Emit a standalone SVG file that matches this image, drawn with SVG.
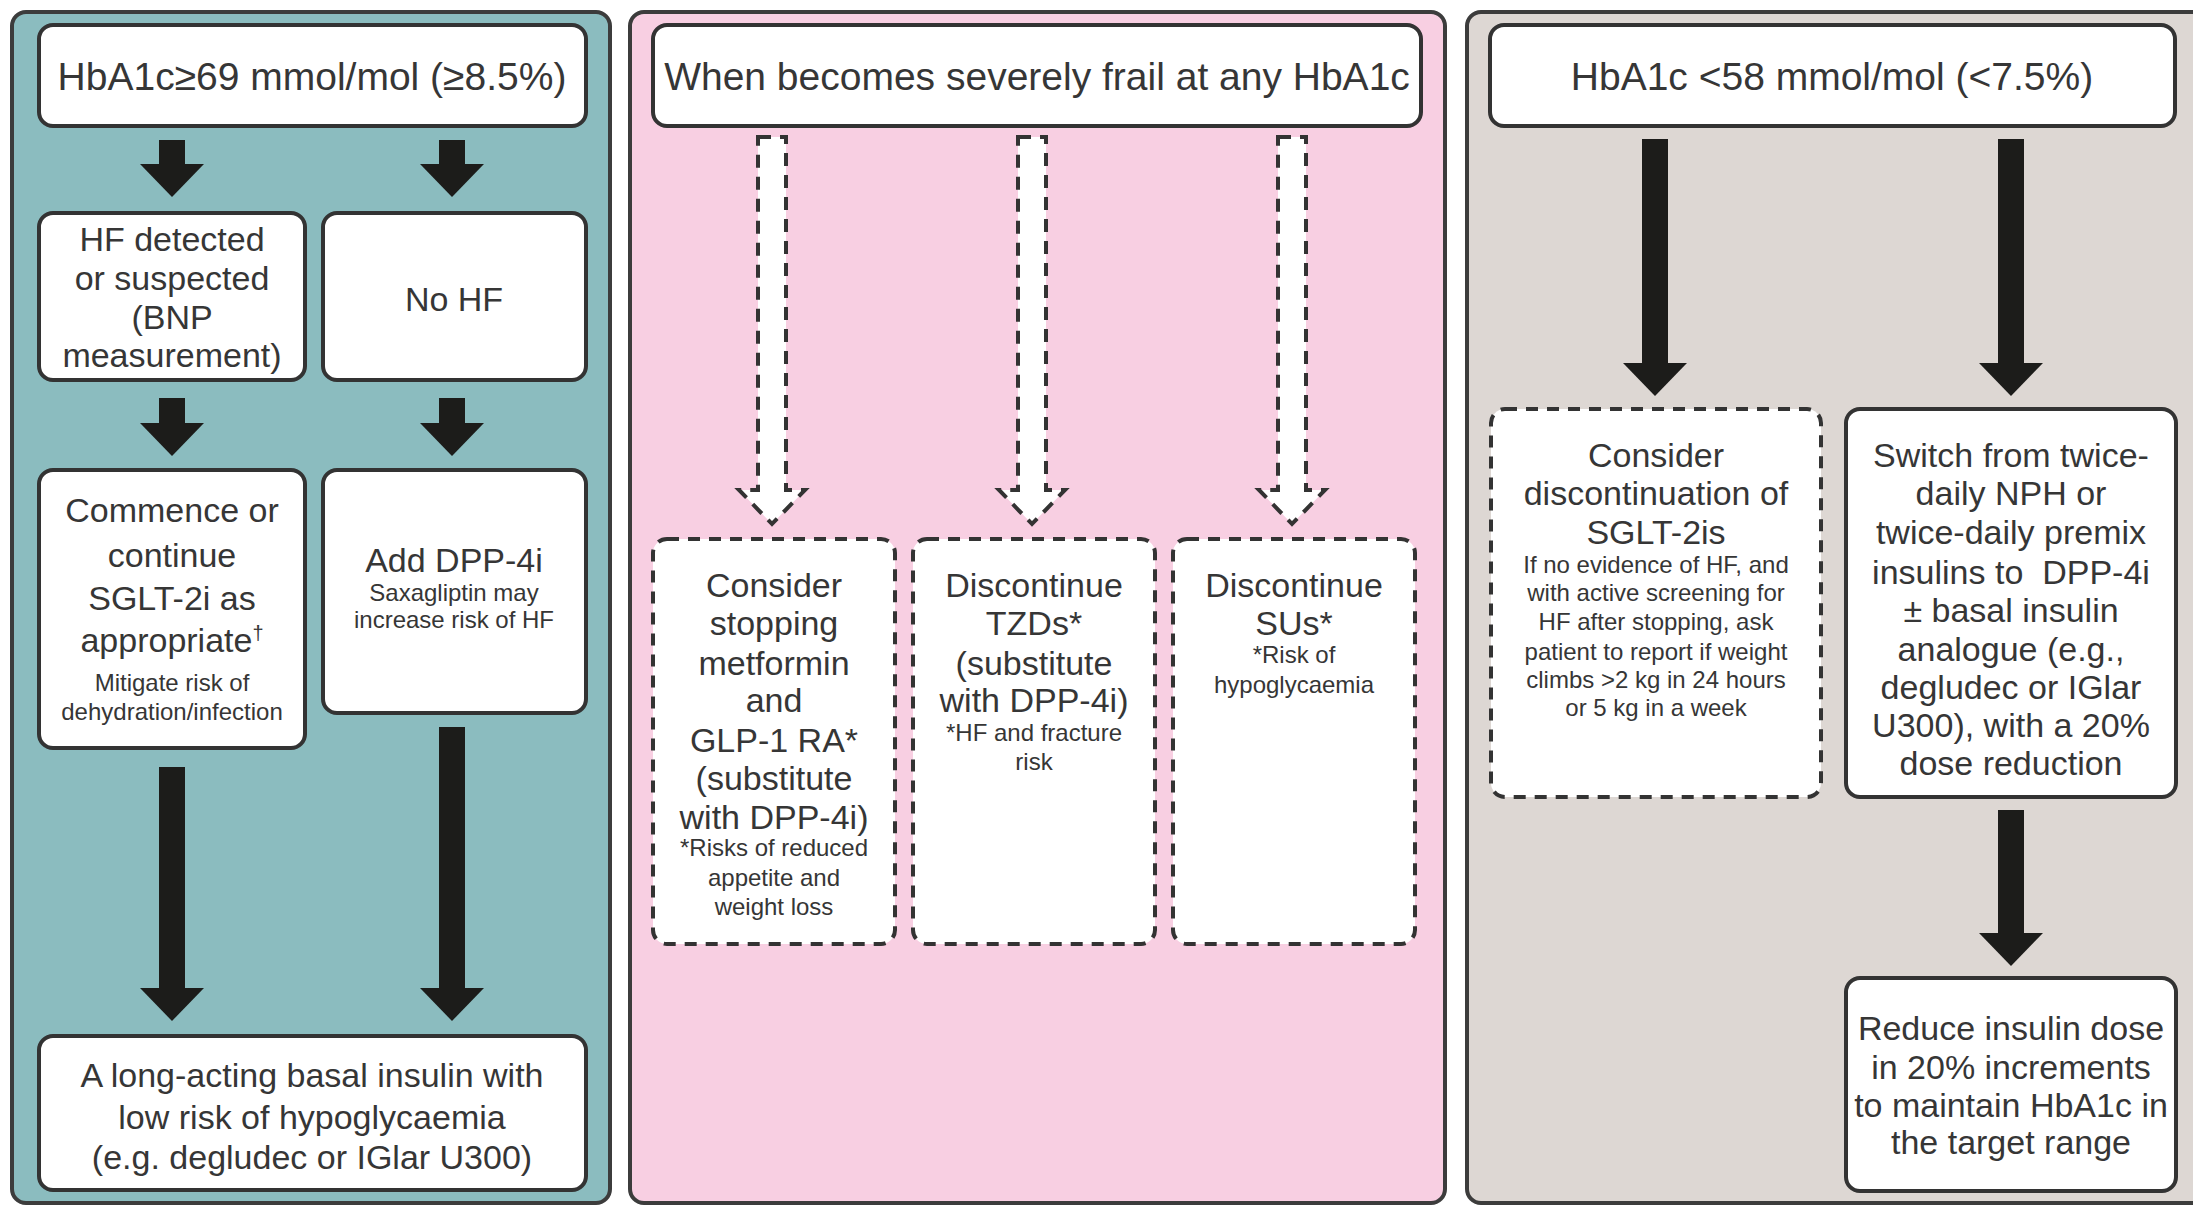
<svg xmlns="http://www.w3.org/2000/svg" width="2193" height="1207" viewBox="0 0 2193 1207">
  <style>
    .panel { stroke: #3c3c3c; stroke-width: 4; }
    .box { fill: #ffffff; stroke: #333333; stroke-width: 4; }
    .dbox { fill: #ffffff; stroke: #333333; stroke-width: 4; stroke-dasharray: 12 9; }
    .arrow { fill: #1c1c1a; }
    .darrow { fill: #ffffff; stroke: #333333; stroke-width: 4; stroke-dasharray: 13 9; }
    text { font-family: "Liberation Sans", Arial, sans-serif; fill: #363636; text-anchor: middle; }
    .h { font-size: 39px; }
    .b { font-size: 34px; }
    .s { font-size: 24px; }
  </style>
  <defs>
    <!-- solid down arrow head: 64 wide, origin at the head's base centre -->
    <path id="headSolid" d="M-32,0 L32,0 L0,33 Z"/>
  </defs>

  <rect x="0" y="0" width="2193" height="1207" fill="#ffffff"/>

  <!-- Column backgrounds -->
  <g id="panel-high">
    <rect class="panel" x="12" y="12" width="598" height="1191" rx="14" fill="#8bbcbf"/>
  </g>
  <g id="panel-frail">
    <rect class="panel" x="630" y="12" width="815" height="1191" rx="14" fill="#f8cfe2"/>
  </g>
  <g id="panel-low">
    <rect class="panel" x="1467" y="12" width="760" height="1191" rx="14" fill="#ddd7d3"/>
  </g>

  <!-- Connectors -->
  <g id="connectors">
    <!-- left column -->
    <rect class="arrow" x="159" y="140" width="26" height="25"/>
    <use href="#headSolid" class="arrow" x="172" y="164"/>
    <rect class="arrow" x="439" y="140" width="26" height="25"/>
    <use href="#headSolid" class="arrow" x="452" y="164"/>
    <rect class="arrow" x="159" y="398" width="26" height="26"/>
    <use href="#headSolid" class="arrow" x="172" y="423"/>
    <rect class="arrow" x="439" y="398" width="26" height="26"/>
    <use href="#headSolid" class="arrow" x="452" y="423"/>
    <rect class="arrow" x="159" y="767" width="26" height="222"/>
    <use href="#headSolid" class="arrow" x="172" y="988"/>
    <rect class="arrow" x="439" y="727" width="26" height="262"/>
    <use href="#headSolid" class="arrow" x="452" y="988"/>

    <!-- middle column: hollow dashed arrows -->
    <path class="darrow" d="M758,137 L786,137 L786,490 L805,490 L772,524 L739,490 L758,490 Z"/>
    <path class="darrow" d="M1018,137 L1046,137 L1046,490 L1065,490 L1032,524 L999,490 L1018,490 Z"/>
    <path class="darrow" d="M1278,137 L1306,137 L1306,490 L1325,490 L1292,524 L1259,490 L1278,490 Z"/>

    <!-- right column -->
    <rect class="arrow" x="1642" y="139" width="26" height="225"/>
    <use href="#headSolid" class="arrow" x="1655" y="363"/>
    <rect class="arrow" x="1998" y="139" width="26" height="225"/>
    <use href="#headSolid" class="arrow" x="2011" y="363"/>
    <rect class="arrow" x="1998" y="810" width="26" height="124"/>
    <use href="#headSolid" class="arrow" x="2011" y="933"/>
  </g>

  <!-- Left column nodes -->
  <g id="node-hba1c-high">
    <rect class="box" x="39" y="25" width="547" height="101" rx="14"/>
    <text class="h" x="312" y="90">HbA1c≥69 mmol/mol (≥8.5%)</text>
  </g>
  <g id="node-hf">
    <rect class="box" x="39" y="213" width="266" height="167" rx="14"/>
    <text class="b" x="172" y="251">HF detected</text>
    <text class="b" x="172" y="290">or suspected</text>
    <text class="b" x="172" y="329">(BNP</text>
    <text class="b" x="172" y="367">measurement)</text>
  </g>
  <g id="node-no-hf">
    <rect class="box" x="323" y="213" width="263" height="167" rx="14"/>
    <text class="b" x="454" y="311">No HF</text>
  </g>
  <g id="node-sglt2">
    <rect class="box" x="39" y="470" width="266" height="278" rx="14"/>
    <text class="b" x="172" y="522">Commence or</text>
    <text class="b" x="172" y="567">continue</text>
    <text class="b" x="172" y="610">SGLT-2i as</text>
    <text class="b" x="172" y="652">appropriate<tspan font-size="20" dy="-12">†</tspan></text>
    <text class="s" x="172" y="691">Mitigate risk of</text>
    <text class="s" x="172" y="720">dehydration/infection</text>
  </g>
  <g id="node-dpp4">
    <rect class="box" x="323" y="470" width="263" height="243" rx="14"/>
    <text class="b" x="454" y="572">Add DPP-4i</text>
    <text class="s" x="454" y="601">Saxagliptin may</text>
    <text class="s" x="454" y="628">increase risk of HF</text>
  </g>
  <g id="node-basal">
    <rect class="box" x="39" y="1036" width="547" height="154" rx="14"/>
    <text class="b" x="312" y="1087">A long-acting basal insulin with</text>
    <text class="b" x="312" y="1129">low risk of hypoglycaemia</text>
    <text class="b" x="312" y="1169">(e.g. degludec or IGlar U300)</text>
  </g>

  <!-- Middle column nodes -->
  <g id="node-frail">
    <rect class="box" x="653" y="25" width="768" height="101" rx="14"/>
    <text class="h" x="1037" y="90">When becomes severely frail at any HbA1c</text>
  </g>
  <g id="node-metformin">
    <rect class="dbox" x="653" y="539" width="242" height="405" rx="14"/>
    <text class="b" x="774" y="597">Consider</text>
    <text class="b" x="774" y="635">stopping</text>
    <text class="b" x="774" y="675">metformin</text>
    <text class="b" x="774" y="712">and</text>
    <text class="b" x="774" y="752">GLP-1 RA*</text>
    <text class="b" x="774" y="790">(substitute</text>
    <text class="b" x="774" y="829">with DPP-4i)</text>
    <text class="s" x="774" y="856">*Risks of reduced</text>
    <text class="s" x="774" y="886">appetite and</text>
    <text class="s" x="774" y="915">weight loss</text>
  </g>
  <g id="node-tzd">
    <rect class="dbox" x="913" y="539" width="242" height="405" rx="14"/>
    <text class="b" x="1034" y="597">Discontinue</text>
    <text class="b" x="1034" y="635">TZDs*</text>
    <text class="b" x="1034" y="675">(substitute</text>
    <text class="b" x="1034" y="712">with DPP-4i)</text>
    <text class="s" x="1034" y="741">*HF and fracture</text>
    <text class="s" x="1034" y="770">risk</text>
  </g>
  <g id="node-su">
    <rect class="dbox" x="1173" y="539" width="242" height="405" rx="14"/>
    <text class="b" x="1294" y="597">Discontinue</text>
    <text class="b" x="1294" y="635">SUs*</text>
    <text class="s" x="1294" y="663">*Risk of</text>
    <text class="s" x="1294" y="693">hypoglycaemia</text>
  </g>

  <!-- Right column nodes -->
  <g id="node-hba1c-low">
    <rect class="box" x="1490" y="25" width="685" height="101" rx="14"/>
    <text class="h" x="1832" y="90">HbA1c &lt;58 mmol/mol (&lt;7.5%)</text>
  </g>
  <g id="node-sglt2-stop">
    <rect class="dbox" x="1491" y="409" width="330" height="388" rx="14"/>
    <text class="b" x="1656" y="467">Consider</text>
    <text class="b" x="1656" y="505">discontinuation of</text>
    <text class="b" x="1656" y="544">SGLT-2is</text>
    <text class="s" x="1656" y="573">If no evidence of HF, and</text>
    <text class="s" x="1656" y="601">with active screening for</text>
    <text class="s" x="1656" y="630">HF after stopping, ask</text>
    <text class="s" x="1656" y="660">patient to report if weight</text>
    <text class="s" x="1656" y="688">climbs &gt;2 kg in 24 hours</text>
    <text class="s" x="1656" y="716">or 5 kg in a week</text>
  </g>
  <g id="node-switch">
    <rect class="box" x="1846" y="409" width="330" height="388" rx="14"/>
    <text class="b" x="2011" y="467">Switch from twice-</text>
    <text class="b" x="2011" y="505">daily NPH or</text>
    <text class="b" x="2011" y="544">twice-daily premix</text>
    <text class="b" x="2011" y="584" style="white-space: pre">insulins to  DPP-4i</text>
    <text class="b" x="2011" y="622">± basal insulin</text>
    <text class="b" x="2011" y="661">analogue (e.g.,</text>
    <text class="b" x="2011" y="699">degludec or IGlar</text>
    <text class="b" x="2011" y="737">U300), with a 20%</text>
    <text class="b" x="2011" y="775">dose reduction</text>
  </g>
  <g id="node-reduce">
    <rect class="box" x="1846" y="978" width="330" height="213" rx="14"/>
    <text class="b" x="2011" y="1040">Reduce insulin dose</text>
    <text class="b" x="2011" y="1079">in 20% increments</text>
    <text class="b" x="2011" y="1117">to maintain HbA1c in</text>
    <text class="b" x="2011" y="1154">the target range</text>
  </g>
</svg>
